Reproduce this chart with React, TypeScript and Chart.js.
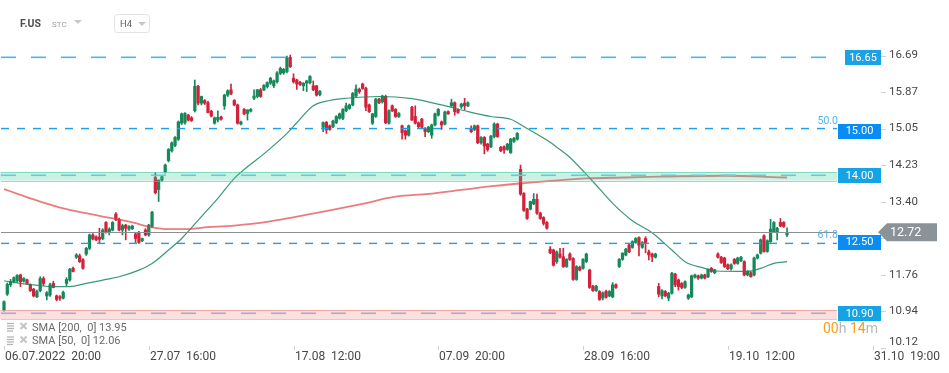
import React, { useEffect, useRef } from 'react';
import Chart from 'chart.js/auto';

// ---------- data ----------
const X_TICK_INDEX = [0, 44, 88, 132, 176, 220, 264];
const X_TICK_LABELS = ['06.07.2022  20:00', '27.07  16:00', '17.08  12:00', '07.09  20:00', '28.09  16:00', '19.10  12:00', '31.10  19:00'];
const Y_TICKS = [16.69, 15.87, 15.05, 14.23, 13.4, 12.58, 11.76, 10.94, 10.12];

// [open, high, low, close] per H4 bar
const CANDLES: [number, number, number, number][] = [
  [10.97, 11.18, 10.95, 11.16], [11.33, 11.58, 11.30, 11.55], [11.54, 11.66, 11.50, 11.61], [11.61, 11.72, 11.58, 11.70],
  [11.63, 11.77, 11.60, 11.75], [11.76, 11.78, 11.50, 11.61], [11.62, 11.70, 11.60, 11.68], [11.65, 11.67, 11.55, 11.57],
  [11.54, 11.56, 11.39, 11.41], [11.44, 11.46, 11.27, 11.29], [11.27, 11.42, 11.25, 11.39], [11.41, 11.72, 11.38, 11.68],
  [11.68, 11.72, 11.52, 11.57], [11.29, 11.39, 11.20, 11.36], [11.31, 11.58, 11.28, 11.54], [11.57, 11.62, 11.47, 11.48],
  [11.29, 11.31, 11.18, 11.21], [11.27, 11.30, 11.19, 11.24], [11.24, 11.40, 11.22, 11.37], [11.57, 11.70, 11.52, 11.66],
  [11.65, 11.91, 11.62, 11.89], [11.91, 11.94, 11.83, 11.84], [12.16, 12.24, 12.13, 12.21], [12.19, 12.23, 12.04, 12.06],
  [12.10, 12.13, 11.89, 11.91], [12.23, 12.38, 12.20, 12.36], [12.36, 12.68, 12.33, 12.66], [12.66, 12.69, 12.55, 12.57],
  [12.62, 12.64, 12.53, 12.55], [12.61, 12.81, 12.47, 12.56], [12.58, 12.80, 12.55, 12.77], [12.94, 12.96, 12.70, 12.73],
  [12.73, 12.82, 12.66, 12.79], [12.77, 12.96, 12.75, 12.94], [13.13, 13.16, 12.98, 13.00], [13.01, 13.04, 12.75, 12.77],
  [12.77, 12.90, 12.66, 12.87], [12.88, 12.90, 12.55, 12.81], [12.79, 12.87, 12.76, 12.85], [12.80, 12.88, 12.78, 12.86],
  [12.68, 12.71, 12.49, 12.58], [12.71, 12.74, 12.47, 12.49], [12.53, 12.59, 12.51, 12.58], [12.77, 12.80, 12.64, 12.66],
  [12.66, 12.90, 12.63, 12.88], [12.85, 13.19, 12.83, 13.17], [13.95, 14.06, 13.58, 13.61], [13.68, 13.90, 13.41, 13.89],
  [13.89, 14.00, 13.87, 13.97], [14.08, 14.25, 14.05, 14.23], [14.33, 14.60, 14.30, 14.58], [14.55, 14.75, 14.52, 14.73],
  [14.67, 14.87, 14.64, 14.85], [14.81, 15.22, 14.78, 15.20], [15.17, 15.40, 15.14, 15.38], [15.18, 15.41, 15.15, 15.39],
  [15.35, 15.37, 15.22, 15.24], [15.29, 15.32, 15.21, 15.23], [15.45, 16.14, 15.42, 16.00], [16.00, 16.02, 15.58, 15.62],
  [15.62, 15.78, 15.58, 15.77], [15.68, 15.70, 15.59, 15.62], [15.63, 15.66, 15.40, 15.41], [15.44, 15.46, 15.31, 15.33],
  [15.17, 15.31, 15.15, 15.29], [15.24, 15.45, 15.20, 15.30], [15.31, 15.33, 15.24, 15.26], [15.56, 15.82, 15.48, 15.80],
  [15.80, 15.92, 15.77, 15.90], [15.92, 16.05, 15.81, 15.83], [15.68, 15.70, 15.56, 15.58], [15.58, 15.60, 15.15, 15.17],
  [15.15, 15.22, 15.13, 15.20], [15.48, 15.50, 15.36, 15.38], [15.39, 15.47, 15.24, 15.47], [15.44, 15.50, 15.42, 15.48],
  [15.73, 15.92, 15.70, 15.78], [15.77, 15.93, 15.74, 15.92], [15.92, 15.95, 15.75, 15.77], [15.92, 16.04, 15.90, 16.02],
  [15.99, 16.10, 15.96, 16.08], [16.07, 16.20, 16.04, 16.18], [16.01, 16.14, 15.97, 16.12], [16.10, 16.33, 16.07, 16.30],
  [16.29, 16.43, 16.26, 16.40], [16.30, 16.40, 16.27, 16.38], [16.33, 16.68, 16.30, 16.63], [16.65, 16.70, 16.42, 16.44],
  [16.18, 16.28, 16.07, 16.10], [16.14, 16.16, 15.93, 16.05], [16.09, 16.11, 16.02, 16.04], [16.01, 16.08, 15.90, 16.07],
  [16.07, 16.13, 15.88, 16.12], [16.08, 16.24, 16.05, 16.22], [16.01, 16.12, 15.90, 15.92], [16.01, 16.02, 15.78, 15.80],
  [15.81, 15.90, 15.78, 15.89], [15.08, 15.20, 14.98, 15.18], [15.19, 15.21, 14.94, 15.02], [15.11, 15.13, 15.01, 15.03],
  [15.09, 15.24, 15.07, 15.22], [15.18, 15.34, 15.16, 15.32], [15.28, 15.40, 15.26, 15.38], [15.28, 15.50, 15.25, 15.48],
  [15.45, 15.62, 15.43, 15.56], [15.50, 15.60, 15.48, 15.58], [15.58, 15.86, 15.56, 15.84], [15.78, 16.03, 15.76, 15.94],
  [15.93, 15.96, 15.84, 15.88], [16.05, 16.07, 15.93, 15.95], [15.95, 15.98, 15.45, 15.53], [15.58, 15.60, 15.41, 15.43],
  [15.17, 15.39, 15.14, 15.38], [15.32, 15.73, 15.30, 15.71], [15.71, 15.73, 15.61, 15.63], [15.65, 15.80, 15.62, 15.78],
  [15.77, 15.80, 15.16, 15.18], [15.17, 15.47, 15.15, 15.45], [15.56, 15.58, 15.43, 15.45], [15.48, 15.50, 15.30, 15.32],
  [15.32, 15.41, 15.30, 15.39], [15.11, 15.13, 14.81, 14.96], [15.00, 15.02, 14.81, 14.90], [14.90, 15.13, 14.88, 15.11],
  [15.53, 15.55, 15.23, 15.24], [15.32, 15.56, 15.15, 15.17], [15.18, 15.20, 15.07, 15.09], [15.26, 15.28, 15.06, 15.08],
  [15.05, 15.07, 14.87, 14.98], [14.98, 15.10, 14.96, 15.08], [14.90, 15.15, 14.83, 15.13], [15.13, 15.40, 15.11, 15.38],
  [15.35, 15.50, 15.33, 15.48], [15.20, 15.22, 15.03, 15.13], [15.15, 15.44, 15.13, 15.42], [15.43, 15.45, 15.37, 15.38],
  [15.56, 15.71, 15.54, 15.63], [15.63, 15.65, 15.35, 15.43], [15.47, 15.49, 15.39, 15.41], [15.54, 15.62, 15.50, 15.60],
  [15.62, 15.73, 15.47, 15.56], [15.56, 15.65, 15.54, 15.63], [15.05, 15.11, 14.96, 14.98], [15.03, 15.13, 15.00, 15.11],
  [15.11, 15.13, 14.71, 14.73], [14.73, 14.87, 14.70, 14.85], [14.85, 14.87, 14.48, 14.66], [14.70, 14.72, 14.54, 14.58],
  [14.64, 14.90, 14.62, 14.88], [14.87, 15.18, 14.84, 15.15], [15.15, 15.17, 14.85, 14.87], [14.63, 14.65, 14.53, 14.55],
  [14.64, 14.66, 14.49, 14.57], [14.58, 14.72, 14.56, 14.70], [14.51, 14.83, 14.49, 14.81], [14.76, 14.85, 14.74, 14.83],
  [14.81, 14.96, 14.79, 14.94], [14.13, 14.23, 13.55, 13.58], [13.59, 13.61, 13.19, 13.21], [13.24, 13.26, 13.01, 13.03],
  [13.24, 13.42, 13.22, 13.41], [13.36, 13.59, 13.34, 13.46], [13.46, 13.58, 13.12, 13.15], [13.15, 13.17, 13.01, 13.03],
  [13.05, 13.07, 12.88, 12.92], [12.94, 12.96, 12.79, 12.81], [12.34, 12.40, 12.24, 12.26], [12.32, 12.34, 11.96, 11.98],
  [12.06, 12.30, 12.02, 12.28], [12.23, 12.36, 12.14, 12.16], [12.17, 12.36, 11.93, 11.95], [11.95, 12.13, 11.93, 12.11],
  [12.23, 12.26, 12.09, 12.11], [12.13, 12.15, 11.64, 11.66], [11.66, 11.97, 11.64, 11.95], [11.93, 11.96, 11.85, 11.87],
  [11.91, 12.13, 11.89, 12.11], [12.06, 12.25, 12.04, 12.23], [11.87, 11.89, 11.46, 11.48], [11.51, 11.53, 11.39, 11.41],
  [11.41, 11.53, 11.39, 11.51], [11.39, 11.41, 11.19, 11.21], [11.24, 11.38, 11.20, 11.36], [11.39, 11.42, 11.24, 11.26],
  [11.29, 11.41, 11.27, 11.39], [11.27, 11.59, 11.25, 11.54], [11.54, 11.56, 11.46, 11.48], [11.95, 12.13, 11.93, 12.11],
  [12.11, 12.26, 12.09, 12.25], [12.21, 12.36, 12.19, 12.34], [12.43, 12.45, 12.26, 12.28], [12.38, 12.53, 12.36, 12.51],
  [12.49, 12.60, 12.47, 12.58], [12.60, 12.62, 12.19, 12.43], [12.38, 12.51, 12.36, 12.49], [12.58, 12.62, 12.26, 12.47],
  [12.28, 12.32, 12.10, 12.21], [12.23, 12.25, 12.06, 12.17], [12.16, 12.25, 12.14, 12.23], [11.50, 11.57, 11.27, 11.33],
  [11.29, 11.43, 11.22, 11.41], [11.39, 11.41, 11.27, 11.29], [11.24, 11.37, 11.18, 11.35], [11.35, 11.82, 11.33, 11.80],
  [11.78, 11.80, 11.50, 11.54], [11.65, 11.67, 11.42, 11.50], [11.57, 11.59, 11.45, 11.48], [11.48, 11.63, 11.46, 11.61],
  [11.24, 11.33, 11.21, 11.31], [11.27, 11.76, 11.25, 11.74], [11.71, 11.78, 11.69, 11.76], [11.74, 11.76, 11.66, 11.69],
  [11.69, 11.78, 11.67, 11.76], [11.76, 11.78, 11.67, 11.69], [11.72, 11.90, 11.70, 11.89], [11.91, 11.93, 11.82, 11.84],
  [11.81, 11.89, 11.79, 11.88], [12.23, 12.26, 12.14, 12.16], [12.16, 12.18, 12.02, 12.04], [12.14, 12.16, 11.93, 11.95],
  [11.99, 12.01, 11.88, 11.90], [11.90, 12.01, 11.87, 11.99], [12.11, 12.13, 12.00, 12.02], [12.02, 12.16, 12.00, 12.14],
  [12.08, 12.18, 12.06, 12.16], [12.06, 12.08, 11.74, 11.76], [11.76, 11.86, 11.74, 11.84], [11.81, 11.83, 11.71, 11.72],
  [11.76, 12.16, 11.74, 12.14], [12.14, 12.23, 12.12, 12.21], [12.25, 12.57, 12.23, 12.55], [12.64, 12.66, 12.27, 12.29],
  [12.29, 12.55, 12.27, 12.53], [12.51, 13.01, 12.49, 12.79], [12.73, 12.96, 12.71, 12.94], [12.73, 12.83, 12.55, 12.81],
  [12.94, 13.03, 12.84, 12.86], [12.94, 12.96, 12.83, 12.85], [12.66, 12.82, 12.62, 12.72],
];

const SMA200_IDX = [0, 5, 11, 19, 29, 39, 45, 50, 56, 60, 70, 79, 89, 99, 109, 119, 129, 139, 149, 159, 167, 177, 189, 199, 219, 238];
const SMA200_VAL = [13.69, 13.56, 13.41, 13.24, 13.09, 12.94, 12.83, 12.79, 12.79, 12.82, 12.87, 12.94, 13.07, 13.21, 13.36, 13.52, 13.58, 13.67, 13.76, 13.83, 13.88, 13.93, 13.95, 13.97, 13.99, 13.95];

const SMA50_IDX = [0, 5, 9, 14, 20, 25, 31, 35, 41, 45, 50, 54, 60, 65, 70, 74, 79, 86, 89, 94, 99, 104, 114, 124, 133, 140, 148, 154, 159, 165, 168, 172, 179, 185, 191, 197, 203, 207, 213, 216, 226, 230, 234, 238];
const SMA50_VAL = [11.63, 11.57, 11.54, 11.50, 11.50, 11.57, 11.66, 11.72, 11.87, 12.02, 12.32, 12.58, 13.07, 13.48, 13.93, 14.19, 14.48, 14.94, 15.18, 15.56, 15.68, 15.73, 15.77, 15.72, 15.58, 15.45, 15.32, 15.26, 15.05, 14.79, 14.63, 14.40, 13.86, 13.37, 12.98, 12.71, 12.32, 12.06, 11.91, 11.85, 11.84, 11.91, 12.02, 12.06];

const LINE_VALUES = [16.65, 15.05, 14.0, 12.47, 10.9];
const LABEL_VALUES = [16.65, 15.0, 14.0, 12.5, 10.9];
const LABEL_TEXTS = ['16.65', '15.00', '14.00', '12.50', '10.90'];
const FIB_VALUES = [15.05, 12.47];
const FIB_TEXTS = ['50.0', '61.8'];
const BAND_TEAL = [13.88, 14.07];
const BAND_PINK = [10.77, 10.97];
const LAST_PRICE = 12.72;
const SMA200_LAST = 13.95;
const SMA50_LAST = 12.06;
const TIMER_PARTS = ['00', 'h ', '14', 'm'];

// ---------- styles ----------
const GREEN = '#16895a';
const RED = '#d2213a';
const FONT = 'Roboto, "Noto Sans", sans-serif';

const overlay = {
  id: 'overlay',
  afterDatasetsDraw(chart: any) {
    const { ctx, chartArea: ca, scales } = chart;
    const Y = (v: number) => scales.y.getPixelForValue(v);
    const L = ca.left, R = ca.right, W = R - L;
    const hline = (yy: number, color: string, width: number, dash: number[]) => {
      ctx.beginPath();
      ctx.setLineDash(dash);
      ctx.strokeStyle = color;
      ctx.lineWidth = width;
      ctx.moveTo(L + 1, yy);
      ctx.lineTo(R, yy);
      ctx.stroke();
    };
    ctx.save();
    ctx.beginPath();
    ctx.rect(L, ca.top, W, ca.bottom - ca.top);
    ctx.clip();
    // teal band
    let a = Y(BAND_TEAL[1]), b = Y(BAND_TEAL[0]);
    ctx.fillStyle = 'rgba(60, 205, 155, 0.27)';
    ctx.fillRect(L, a, W, b - a);
    hline(Math.round(a) + 0.5, 'rgba(70, 205, 160, 0.6)', 1, []);
    hline(Math.round(b) + 0.5, 'rgba(70, 205, 160, 0.6)', 1, []);
    // pink band
    a = Y(BAND_PINK[1]); b = Y(BAND_PINK[0]);
    ctx.fillStyle = 'rgba(242, 110, 110, 0.22)';
    ctx.fillRect(L, a, W, b - a);
    hline(Math.round(a) + 0.5, 'rgba(240, 140, 140, 0.7)', 1, []);
    hline(Math.round(b) + 0.5, 'rgba(240, 140, 140, 0.55)', 1, []);
    // level lines
    hline(Y(LINE_VALUES[0]), '#4ab5ee', 1.6, [15, 15]);
    hline(Y(LINE_VALUES[1]), '#18a0e8', 1.4, [8, 8]);
    hline(Y(LINE_VALUES[2]), '#6cc6e2', 1.6, [15, 15]);
    hline(Y(LINE_VALUES[3]), '#18a0e8', 1.4, [8, 8]);
    hline(Y(LINE_VALUES[4]), '#9cb2cc', 1.6, [15, 15]);
    // current price line
    hline(Math.round(Y(LAST_PRICE)) + 0.5, '#8c8f92', 1.2, []);
    ctx.restore();
  },
  afterDraw(chart: any) {
    const { ctx, chartArea: ca, scales } = chart;
    const Y = (v: number) => scales.y.getPixelForValue(v);
    const X = (v: number) => scales.x.getPixelForValue(v);
    ctx.save();
    ctx.setLineDash([]);

    // y ticks
    ctx.font = `11.5px ${FONT}`;
    ctx.textAlign = 'left';
    ctx.textBaseline = 'middle';
    Y_TICKS.forEach((v) => {
      const yy = Y(v);
      ctx.strokeStyle = '#d0d0d0';
      ctx.lineWidth = 1;
      ctx.beginPath();
      ctx.moveTo(881, Math.round(yy) + 0.5);
      ctx.lineTo(886, Math.round(yy) + 0.5);
      ctx.stroke();
      ctx.fillStyle = '#474747';
      const ly = Math.min(yy, ca.bottom - 6);
      ctx.fillText(v.toFixed(2), 889, ly);
    });

    // level label boxes
    const boxColors = ['#1ba2e6', '#0a8cf5', '#16a3e6', '#0a8cf5', '#16a3e6'];
    LABEL_VALUES.forEach((v, i) => {
      const yy = Y(v);
      const x0 = i === 0 ? 845 : 838;
      ctx.fillStyle = boxColors[i];
      ctx.fillRect(x0, Math.round(yy - 7), 881 - x0, 15);
      ctx.fillStyle = '#ffffff';
      ctx.font = `11px ${FONT}`;
      ctx.textAlign = 'center';
      ctx.textBaseline = 'middle';
      ctx.fillText(LABEL_TEXTS[i], (x0 + 881) / 2, yy + 0.5);
    });

    // fib texts
    ctx.font = `10.5px ${FONT}`;
    ctx.fillStyle = '#4cb6ef';
    ctx.textAlign = 'right';
    ctx.textBaseline = 'alphabetic';
    FIB_VALUES.forEach((v, i) => ctx.fillText(FIB_TEXTS[i], 838, Y(v) - 5));

    // current price tag
    const yc = Y(LAST_PRICE);
    ctx.fillStyle = '#8a9397';
    ctx.beginPath();
    ctx.moveTo(878, yc);
    ctx.lineTo(887, yc - 9);
    ctx.lineTo(937, yc - 9);
    ctx.lineTo(937, yc + 9);
    ctx.lineTo(887, yc + 9);
    ctx.closePath();
    ctx.fill();
    ctx.fillStyle = '#ffffff';
    ctx.font = `12.5px ${FONT}`;
    ctx.textAlign = 'left';
    ctx.textBaseline = 'middle';
    ctx.fillText(LAST_PRICE.toFixed(2), 890, yc + 0.5);

    // timer
    ctx.font = `14px ${FONT}`;
    ctx.textBaseline = 'alphabetic';
    let tx = 823;
    TIMER_PARTS.forEach((p, i) => {
      ctx.fillStyle = i % 2 === 0 ? '#f5a01a' : '#b8b8b8';
      ctx.fillText(p, tx, 333);
      tx += ctx.measureText(p).width;
    });

    // x axis
    ctx.font = `12px ${FONT}`;
    ctx.textAlign = 'left';
    X_TICK_INDEX.forEach((idx, i) => {
      const xx = Math.round(X(idx)) + 0.5;
      ctx.strokeStyle = '#d0d0d0';
      ctx.lineWidth = 1;
      ctx.beginPath();
      ctx.moveTo(xx, 346);
      ctx.lineTo(xx, 350);
      ctx.stroke();
      ctx.fillStyle = '#474747';
      ctx.fillText(X_TICK_LABELS[i], xx + 0.5, 359.5);
    });

    // header
    ctx.fillStyle = '#4f4f4f';
    ctx.font = `bold 10.5px ${FONT}`;
    ctx.fillText('F.US', 20, 27);
    ctx.fillStyle = '#9a9a9a';
    ctx.font = `8px ${FONT}`;
    ctx.fillText('STC', 52, 27);
    const tri = (x: number, y: number) => {
      ctx.fillStyle = '#c9c9c9';
      ctx.beginPath();
      ctx.moveTo(x, y);
      ctx.lineTo(x + 8, y);
      ctx.lineTo(x + 4, y + 4);
      ctx.closePath();
      ctx.fill();
    };
    tri(74, 20);
    ctx.strokeStyle = '#e2e2e2';
    ctx.lineWidth = 1;
    ctx.beginPath();
    (ctx as any).roundRect(114.5, 14.5, 35, 18, 3);
    ctx.stroke();
    ctx.fillStyle = '#666666';
    ctx.font = `9.5px ${FONT}`;
    ctx.fillText('H4', 120, 27);
    tri(138, 22);

    // SMA legend
    const legend = (yb: number, text: string) => {
      ctx.strokeStyle = '#b4b4b4';
      ctx.lineWidth = 1.3;
      [yb - 7, yb - 4.5, yb - 2, yb + 0.5].forEach((ly, k) => {
        ctx.beginPath();
        ctx.moveTo(7, ly);
        ctx.lineTo(k === 3 ? 13 : 14, ly);
        ctx.stroke();
      });
      ctx.strokeStyle = '#c4c4c4';
      ctx.lineWidth = 2;
      ctx.beginPath();
      ctx.moveTo(20.5, yb - 7.5);
      ctx.lineTo(26.5, yb - 1.5);
      ctx.moveTo(26.5, yb - 7.5);
      ctx.lineTo(20.5, yb - 1.5);
      ctx.stroke();
      ctx.fillStyle = '#6a6a6a';
      ctx.font = `11px ${FONT}`;
      ctx.textAlign = 'left';
      ctx.fillText(text, 32, yb);
    };
    legend(330.5, `SMA [200,  0] ${SMA200_LAST.toFixed(2)}`);
    legend(344, `SMA [50,  0] ${SMA50_LAST.toFixed(2)}`);

    ctx.restore();
  },
};

export default function App() {
  const ref = useRef<HTMLCanvasElement | null>(null);
  useEffect(() => {
    if (!ref.current) return;
    const bodies = CANDLES.map((c, i) => ({ x: i, y: [Math.min(c[0], c[3]), Math.max(c[0], c[3])] }));
    const wicks = CANDLES.map((c, i) => ({ x: i, y: [c[2], c[1]] }));
    const colors = CANDLES.map((c) => (c[3] >= c[0] ? GREEN : RED));
    const sma200 = SMA200_IDX.map((x, i) => ({ x, y: SMA200_VAL[i] }));
    const sma50 = SMA50_IDX.map((x, i) => ({ x, y: SMA50_VAL[i] }));
    const chart = new Chart(ref.current, {
      type: 'bar',
      data: {
        datasets: [
          {
            type: 'line', data: sma200 as any, borderColor: 'rgba(222, 62, 62, 0.68)', borderWidth: 1.8,
            pointRadius: 0, cubicInterpolationMode: 'monotone', order: 0,
          } as any,
          {
            type: 'line', data: sma50 as any, borderColor: 'rgba(22, 135, 95, 0.85)', borderWidth: 1.2,
            pointRadius: 0, cubicInterpolationMode: 'monotone', order: 0,
          } as any,
          {
            type: 'bar', data: bodies as any, backgroundColor: colors, barThickness: 2.6, grouped: false,
            minBarLength: 1, order: 1,
          } as any,
          {
            type: 'bar', data: wicks as any, backgroundColor: colors, barThickness: 1, grouped: false, order: 2,
          } as any,
        ],
      },
      options: {
        animation: false,
        responsive: false,
        events: [],
        layout: { padding: { left: 0, right: 112, top: 40, bottom: 25 } },
        scales: {
          x: { type: 'linear', min: -1.2158, max: 253.19, display: false, offset: false },
          y: { min: 10.12, max: 17.039, display: false },
        },
        plugins: { legend: { display: false }, tooltip: { enabled: false } },
      } as any,
      plugins: [overlay as any],
    });
    return () => chart.destroy();
  }, []);
  return (
    <div style={{ position: 'absolute', left: 0, top: 0, width: 949, height: 373, background: '#ffffff' }}>
      <canvas ref={ref} width={949} height={373} style={{ width: 949, height: 373, display: 'block' }} />
    </div>
  );
}
